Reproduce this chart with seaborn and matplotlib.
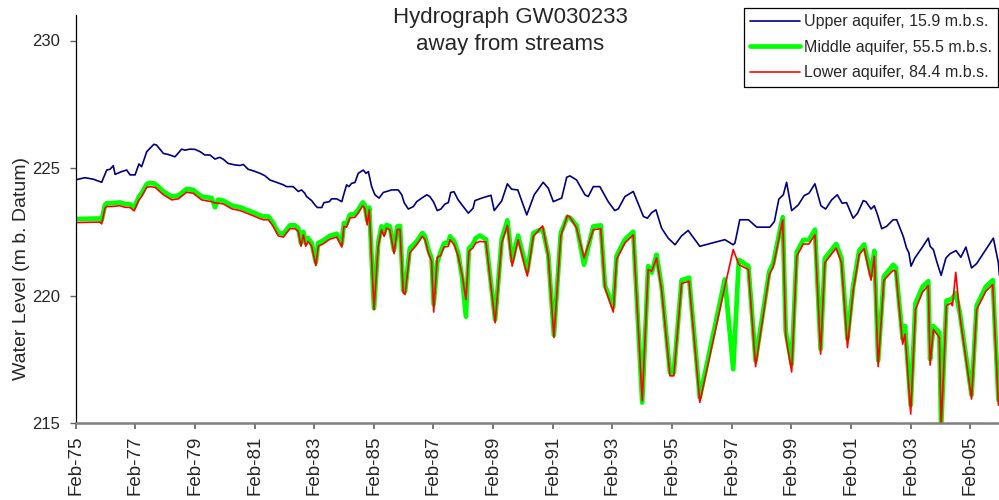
import matplotlib
matplotlib.use("Agg")
import matplotlib.pyplot as plt
import seaborn as sns
import pandas as pd

# Upper aquifer observations (decimal year, water level m b. Datum)
upper_year = [
    1975.07, 1975.40, 1975.68, 1975.96, 1976.13, 1976.24, 1976.35, 1976.41, 1976.63, 1976.80,
    1976.91, 1977.08, 1977.21, 1977.30, 1977.47, 1977.71, 1977.80, 1978.03, 1978.19, 1978.42,
    1978.64, 1978.75, 1978.92, 1979.09, 1979.26, 1979.42, 1979.59, 1979.76, 1979.92, 1980.04,
    1980.20, 1980.43, 1980.60, 1980.71, 1980.87, 1981.04, 1981.27, 1981.43, 1981.60, 1981.82,
    1982.05, 1982.16, 1982.38, 1982.55, 1982.66, 1982.77, 1982.83, 1983.00, 1983.11, 1983.19,
    1983.34, 1983.41, 1983.59, 1983.67, 1983.84, 1984.01, 1984.08, 1984.17, 1984.25, 1984.34,
    1984.45, 1984.56, 1984.73, 1984.82, 1984.90, 1985.01, 1985.12, 1985.26, 1985.40, 1985.68,
    1985.90, 1986.02, 1986.10, 1986.24, 1986.41, 1986.52, 1986.69, 1986.86, 1986.96, 1987.08,
    1987.21, 1987.33, 1987.47, 1987.58, 1987.66, 1987.77, 1987.91, 1988.08, 1988.25, 1988.41,
    1988.47, 1988.70, 1989.01, 1989.12, 1989.37, 1989.56, 1989.70, 1989.91, 1990.21, 1990.46,
    1990.76, 1990.93, 1991.10, 1991.38, 1991.55, 1991.66, 1991.88, 1992.16, 1992.27, 1992.44,
    1992.66, 1992.94, 1993.16, 1993.28, 1993.50, 1993.78, 1994.12, 1994.25, 1994.40, 1994.54,
    1994.73, 1994.95, 1995.18, 1995.40, 1995.62, 1996.01, 1996.85, 1997.13, 1997.19, 1997.35,
    1997.64, 1997.92, 1998.36, 1998.51, 1998.66, 1998.81, 1998.92, 1999.09, 1999.31, 1999.51,
    1999.67, 1999.87, 2000.07, 2000.23, 2000.43, 2000.62, 2000.78, 2000.93, 2001.15, 2001.30,
    2001.49, 2001.58, 2001.75, 2001.86, 2001.97, 2002.11, 2002.27, 2002.49, 2002.61, 2002.83,
    2002.94, 2003.02, 2003.09, 2003.22, 2003.45, 2003.67, 2003.73, 2003.84, 2003.95, 2004.10,
    2004.26, 2004.40, 2004.60, 2004.76, 2004.93, 2005.12, 2005.29, 2005.85, 2006.02, 2006.05,
]
upper_level = [
    224.53, 224.62, 224.56, 224.44, 224.92, 224.95, 225.09, 224.75, 224.86, 224.92,
    224.73, 224.73, 225.16, 225.05, 225.64, 225.93, 225.90, 225.57, 225.53, 225.44,
    225.74, 225.70, 225.74, 225.73, 225.64, 225.51, 225.51, 225.35, 225.42, 225.34,
    225.18, 225.12, 225.10, 225.14, 224.95, 224.89, 224.79, 224.70, 224.53, 224.44,
    224.34, 224.27, 224.27, 224.08, 224.14, 224.01, 223.88, 223.72, 223.55, 223.45,
    223.45, 223.64, 223.68, 223.79, 223.79, 223.68, 223.98, 224.34, 224.27, 224.40,
    224.43, 224.79, 224.92, 224.79, 224.86, 224.27, 223.95, 223.82, 224.04, 224.14,
    224.14, 223.95, 223.64, 223.39, 223.49, 223.68, 223.82, 223.95, 223.88, 223.68,
    223.33, 223.39, 223.59, 223.64, 224.04, 224.07, 223.75, 223.49, 223.23, 223.42,
    223.72, 223.82, 223.93, 223.33, 223.71, 224.38, 224.17, 224.14, 223.16, 223.95,
    224.44, 224.21, 223.68, 223.82, 224.64, 224.69, 224.53, 223.95, 223.88, 224.27,
    224.27, 223.68, 223.33, 223.40, 223.88, 224.08, 223.10, 223.03, 223.25, 223.36,
    222.64, 222.25, 221.99, 222.34, 222.55, 221.93, 222.19, 221.99, 222.06, 222.97,
    222.97, 222.68, 222.68, 222.90, 223.78, 223.95, 224.44, 223.33, 223.55, 223.92,
    224.01, 224.38, 223.52, 223.39, 223.75, 223.95, 223.62, 223.64, 223.03, 223.23,
    223.72, 223.68, 223.39, 223.52, 223.16, 222.62, 222.71, 222.97, 222.97, 222.32,
    221.86, 221.67, 221.15, 221.47, 221.86, 222.25, 221.93, 221.80, 221.34, 220.79,
    221.47, 221.64, 221.76, 221.50, 221.90, 221.08, 221.25, 222.25, 221.28, 220.80,
]

# Middle and lower aquifers share the same sampling dates
deep_year = [
    1975.07, 1975.90, 1975.96, 1976.07, 1976.13, 1976.30, 1976.57, 1976.74, 1976.91, 1977.05,
    1977.21, 1977.30, 1977.47, 1977.58, 1977.75, 1978.03, 1978.31, 1978.53, 1978.81, 1979.03,
    1979.31, 1979.65, 1979.76, 1979.87, 1980.04, 1980.32, 1980.60, 1980.82, 1981.04, 1981.21,
    1981.38, 1981.55, 1981.71, 1981.88, 1982.05, 1982.27, 1982.44, 1982.55, 1982.64, 1982.72,
    1982.80, 1982.88, 1983.00, 1983.14, 1983.22, 1983.39, 1983.61, 1983.84, 1984.01, 1984.08,
    1984.17, 1984.28, 1984.45, 1984.56, 1984.71, 1984.78, 1984.86, 1984.93, 1985.09, 1985.23,
    1985.34, 1985.43, 1985.51, 1985.62, 1985.76, 1985.87, 1985.96, 1986.07, 1986.13, 1986.29,
    1986.52, 1986.71, 1986.80, 1986.91, 1987.02, 1987.09, 1987.21, 1987.32, 1987.44, 1987.58,
    1987.64, 1987.78, 1987.91, 1988.05, 1988.17, 1988.27, 1988.40, 1988.50, 1988.64, 1988.84,
    1989.15, 1989.37, 1989.56, 1989.72, 1989.92, 1990.23, 1990.43, 1990.74, 1990.93, 1991.12,
    1991.35, 1991.57, 1991.66, 1991.88, 1992.13, 1992.44, 1992.69, 1992.83, 1993.11, 1993.22,
    1993.50, 1993.78, 1994.08, 1994.28, 1994.40, 1994.56, 1994.73, 1995.01, 1995.14, 1995.40,
    1995.65, 1996.01, 1996.85, 1997.13, 1997.32, 1997.64, 1997.88, 1998.34, 1998.47, 1998.59,
    1998.79, 1998.89, 1999.09, 1999.26, 1999.48, 1999.67, 1999.87, 2000.06, 2000.20, 2000.58,
    2000.76, 2000.96, 2001.15, 2001.35, 2001.52, 2001.75, 2001.86, 2001.99, 2002.18, 2002.49,
    2002.58, 2002.81, 2002.89, 2003.08, 2003.24, 2003.48, 2003.67, 2003.73, 2003.84, 2004.04,
    2004.10, 2004.28, 2004.45, 2004.48, 2004.59, 2004.73, 2005.12, 2005.29, 2005.60, 2005.83,
    2006.02,
]
middle_level = [
    223.00, 223.02, 222.95, 223.55, 223.62, 223.62, 223.65, 223.59, 223.58, 223.45,
    223.88, 224.01, 224.37, 224.42, 224.38, 224.08, 223.88, 223.92, 224.18, 224.14,
    223.88, 223.82, 223.46, 223.76, 223.72, 223.53, 223.46, 223.36, 223.26, 223.17,
    223.10, 223.10, 222.84, 222.47, 222.42, 222.75, 222.75, 222.64, 222.06, 222.50,
    222.06, 222.25, 222.06, 221.30, 222.06, 222.16, 222.34, 222.42, 222.03, 222.84,
    222.81, 223.17, 223.20, 223.36, 223.65, 223.55, 222.95, 223.45, 219.50, 222.06,
    222.71, 222.45, 222.77, 222.71, 221.77, 222.71, 222.73, 220.20, 220.15, 221.85,
    222.12, 222.45, 222.32, 221.80, 221.45, 219.65, 221.30, 221.70, 222.05, 222.08,
    222.32, 222.12, 221.67, 220.65, 219.17, 221.85, 222.00, 222.25, 222.35, 222.20,
    219.05, 222.20, 222.95, 221.35, 222.35, 220.95, 222.45, 222.62, 221.60, 218.45,
    222.45, 223.08, 223.05, 222.75, 221.21, 222.71, 222.75, 220.40, 219.55, 221.55,
    222.20, 222.50, 215.80, 221.15, 220.90, 221.60, 220.35, 216.98, 216.98, 220.60,
    220.70, 216.00, 220.63, 217.11, 221.40, 221.15, 217.45, 220.95, 221.25, 221.95,
    223.07, 218.60, 217.30, 221.70, 222.18, 222.18, 222.58, 217.90, 221.45, 222.02,
    221.45, 218.30, 220.35, 221.75, 222.00, 220.80, 221.75, 217.45, 220.75, 221.20,
    221.10, 218.30, 218.80, 215.70, 219.70, 220.35, 220.56, 217.50, 218.80, 218.55,
    214.80, 219.80, 219.85, 219.88, 220.10, 219.30, 216.10, 219.60, 220.35, 220.60,
    215.90,
]
lower_level = [
    222.86, 222.88, 222.81, 223.42, 223.49, 223.49, 223.52, 223.46, 223.45, 223.32,
    223.75, 223.88, 224.24, 224.27, 224.24, 223.95, 223.75, 223.79, 224.05, 224.01,
    223.75, 223.68, 223.63, 223.62, 223.59, 223.40, 223.33, 223.23, 223.13, 223.04,
    222.97, 222.97, 222.71, 222.34, 222.29, 222.62, 222.62, 222.51, 221.93, 222.38,
    221.93, 222.12, 221.93, 221.17, 221.93, 222.03, 222.21, 222.29, 221.90, 222.71,
    222.68, 223.04, 223.07, 223.23, 223.52, 223.42, 222.77, 223.36, 219.45, 221.93,
    222.58, 222.32, 222.64, 222.58, 221.64, 222.58, 222.60, 220.10, 220.04, 221.67,
    221.99, 222.32, 222.19, 221.67, 221.34, 219.35, 221.50, 221.56, 221.90, 221.93,
    222.19, 221.99, 221.54, 220.76, 219.84, 221.73, 221.86, 222.06, 222.12, 222.10,
    218.93, 222.06, 222.75, 221.15, 222.19, 220.76, 222.32, 222.73, 221.54, 218.35,
    222.32, 223.14, 223.07, 222.64, 221.47, 222.58, 222.62, 220.30, 219.35, 221.41,
    222.06, 222.38, 215.87, 221.02, 220.95, 221.47, 220.23, 216.85, 216.85, 220.47,
    220.56, 215.81, 220.35, 221.80, 221.21, 221.02, 217.21, 220.82, 221.11, 221.80,
    222.97, 218.41, 217.00, 221.54, 222.02, 222.02, 222.38, 217.70, 221.28, 221.86,
    221.28, 217.96, 220.16, 221.60, 221.84, 220.60, 221.54, 217.21, 220.60, 220.99,
    220.95, 218.09, 218.48, 215.35, 219.45, 220.14, 220.39, 217.27, 218.67, 218.35,
    214.80, 219.61, 219.71, 219.60, 220.91, 219.19, 215.94, 219.45, 220.17, 220.43,
    215.70,
]

series_labels = [
    "Upper aquifer, 15.9 m.b.s.",
    "Middle aquifer, 55.5 m.b.s.",
    "Lower aquifer, 84.4 m.b.s.",
]
tick_years = list(range(1975, 2006, 2))
tick_labels = [f"Feb-{y % 100:02d}" for y in tick_years]
y_ticks = [215, 220, 225, 230]

upper = pd.DataFrame({"year": upper_year, "level": upper_level})
middle = pd.DataFrame({"year": deep_year, "level": middle_level})
lower = pd.DataFrame({"year": deep_year, "level": lower_level})

sns.set_theme(style="white")
plt.rcParams["font.family"] = ["Liberation Sans", "DejaVu Sans"]

fig = plt.figure(figsize=(9.99, 5.0), dpi=100)
ax = fig.add_axes([75.5 / 999, 1 - 423 / 500, 1 - 75.5 / 999, (423 - 15) / 500])

sns.lineplot(data=upper, x="year", y="level", ax=ax, color="#000080", linewidth=1.2,
             estimator=None, sort=False, label=series_labels[0])
sns.lineplot(data=middle, x="year", y="level", ax=ax, color="#00ff00", linewidth=3.4,
             estimator=None, sort=False, label=series_labels[1])
sns.lineplot(data=lower, x="year", y="level", ax=ax, color="#ff0000", linewidth=1.2,
             estimator=None, sort=False, label=series_labels[2])

ax.set_xlim(1975.083, 2006.04)
ax.set_ylim(215, 231)
ax.set_xticks([y + 1 / 12 for y in tick_years])
ax.set_xticklabels(tick_labels, rotation=90, fontsize=13.5)
ax.set_yticks(y_ticks)
ax.set_yticklabels([str(v) for v in y_ticks], fontsize=12)
ax.set_xlabel("")
ax.set_ylabel("")

for side in ("top", "right"):
    ax.spines[side].set_visible(False)
ax.spines["left"].set_color("black")
ax.spines["left"].set_linewidth(0.9)
ax.spines["bottom"].set_color("#808080")
ax.spines["bottom"].set_linewidth(1.8)
ax.tick_params(axis="x", direction="out", length=4, width=1.2, color="#606060", pad=5,
               bottom=True)
ax.tick_params(axis="y", direction="out", length=4, width=1.0, color="#606060", pad=7,
               left=True)
ax.grid(False)

fig.text(510 / 999, 1 - 31 / 500, "Hydrograph GW030233\naway from streams",
         ha="center", va="center", fontsize=16, linespacing=1.4)
fig.text(22 / 999, 1 - 269 / 500, "Water Level (m b. Datum)", rotation=90,
         ha="center", va="center", fontsize=14)

leg = ax.legend(loc="upper right", bbox_to_anchor=(998 / 999, 1 - 8 / 500),
                bbox_transform=fig.transFigure, fontsize=11.5, frameon=True,
                fancybox=False, edgecolor="black", framealpha=1, borderpad=0.4,
                handlelength=3.1, handletextpad=0.25, labelspacing=0.65,
                borderaxespad=0)
leg.get_frame().set_linewidth(0.9)

fig.savefig("out.png", dpi=100)
